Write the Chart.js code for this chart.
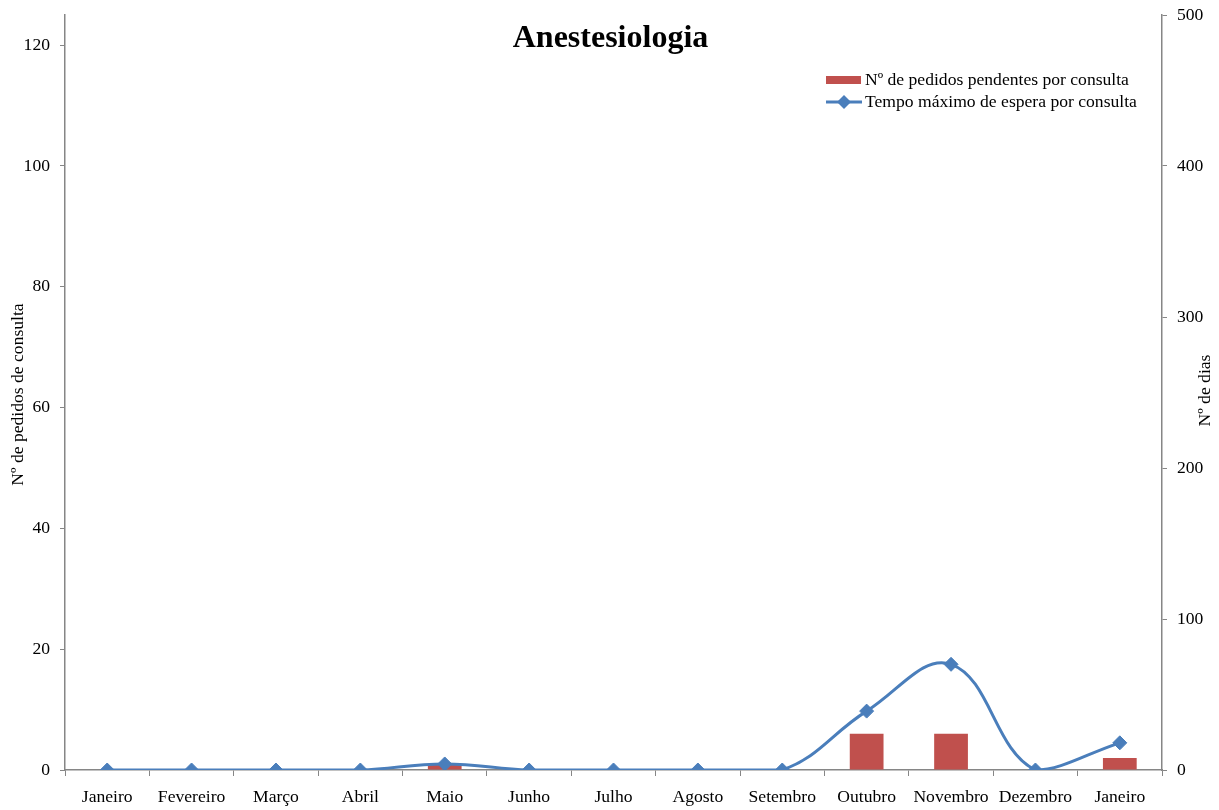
<!DOCTYPE html>
<html lang="pt">
<head>
<meta charset="utf-8">
<title>Anestesiologia</title>
<script src="https://cdn.jsdelivr.net/npm/chart.js@4/dist/chart.umd.min.js"></script>
<style>
  html, body { margin: 0; padding: 0; background: #fff; }
  #wrap { width: 1219px; height: 810px; }
</style>
</head>
<body>
<div id="wrap"><canvas id="anestesiologia-grafica" width="1219" height="810"></canvas></div>
<script>
const meses = ['Janeiro', 'Fevereiro', 'Março', 'Abril', 'Maio', 'Junho', 'Julho',
    'Agosto', 'Setembro', 'Outubro', 'Novembro', 'Dezembro', 'Janeiro'];
const pedidosPendentes = [0, 0, 0, 0, 1, 0, 0, 0, 0, 6, 6, 0, 2];
const tempoMaximo = [0, 0, 0, 0, 4, 0, 0, 0, 0, 39, 70, 0, 18];
const ticksPedidos = [0, 20, 40, 60, 80, 100, 120];
const ticksDias = [0, 100, 200, 300, 400, 500];

const serif = 'Liberation Serif, Times New Roman, serif';
const tamanho = 17.6;
const cinza = '#868686';
const azul = '#4a7ebb';
const vermelho = '#c0504d';

// titulo, legenda e titulos dos eixos desenhados por cima da area do grafico
const extras = {
    id: 'extras',
    afterDraw(chart) {
        const { ctx, chartArea } = chart;
        ctx.save();
        ctx.fillStyle = '#000';

        ctx.font = `bold 32px ${serif}`;
        ctx.textAlign = 'center';
        ctx.textBaseline = 'middle';
        ctx.fillText('Anestesiologia', (chartArea.left + chartArea.right) / 2 - 3, 39);

        // legenda
        const lx = chartArea.right - 336;
        ctx.fillStyle = vermelho;
        ctx.fillRect(lx, 76, 35, 8);
        ctx.strokeStyle = azul;
        ctx.lineWidth = 3;
        ctx.beginPath();
        ctx.moveTo(lx, 102);
        ctx.lineTo(lx + 36, 102);
        ctx.stroke();
        ctx.fillStyle = azul;
        ctx.beginPath();
        ctx.moveTo(lx + 18, 95);
        ctx.lineTo(lx + 25, 102);
        ctx.lineTo(lx + 18, 109);
        ctx.lineTo(lx + 11, 102);
        ctx.closePath();
        ctx.fill();

        ctx.fillStyle = '#000';
        ctx.font = `${tamanho}px ${serif}`;
        ctx.textAlign = 'left';
        ctx.fillText('Nº de pedidos pendentes por consulta', lx + 39, 80);
        ctx.fillText('Tempo máximo de espera por consulta', lx + 39, 102);

        // titulos dos eixos, ambos a ler de baixo para cima
        const meio = (chartArea.top + chartArea.bottom) / 2;
        ctx.textAlign = 'center';
        ctx.save();
        ctx.translate(18, meio + 2);
        ctx.rotate(-Math.PI / 2);
        ctx.fillText('Nº de pedidos de consulta', 0, 0);
        ctx.restore();
        ctx.save();
        ctx.translate(1205, meio - 2);
        ctx.rotate(-Math.PI / 2);
        ctx.fillText('Nº de dias', 0, 0);
        ctx.restore();

        ctx.restore();
    }
};

const fonteTicks = { family: serif, size: tamanho };

// eixos verticais com largura fixa e sem folga extra para o rotulo do topo
const ajustarEixoY = largura => scale => {
    scale.width = largura;
    scale.paddingTop = 0;
    scale.paddingBottom = 0;
};

const ctx = document.getElementById('anestesiologia-grafica').getContext('2d');
const grafica = new Chart(ctx, {
    type: 'bar',
    data: {
        labels: meses,
        datasets: [{
            type: 'line',
            label: 'Tempo máximo de espera por consulta',
            data: tempoMaximo,
            yAxisID: 'dias',
            borderColor: azul,
            backgroundColor: azul,
            borderWidth: 3,
            tension: 0.4,
            pointStyle: 'rectRot',
            pointRadius: 7,
            pointBorderWidth: 1,
            order: 0
        }, {
            label: 'Nº de pedidos pendentes por consulta',
            data: pedidosPendentes,
            yAxisID: 'pedidos',
            backgroundColor: vermelho,
            barPercentage: 0.8,
            categoryPercentage: 0.5,
            order: 1
        }]
    },
    options: {
        responsive: false,
        animation: false,
        layout: { padding: { top: 15 } },
        scales: {
            x: {
                offset: true,
                grid: { offset: true, drawOnChartArea: false, tickLength: 6, color: cinza },
                border: { color: cinza, width: 1.5 },
                ticks: { font: fonteTicks, color: '#000', padding: 11, maxRotation: 0, autoSkip: false },
                afterFit: scale => { scale.height = 40; }
            },
            pedidos: {
                position: 'left',
                min: 0,
                max: 125,
                afterBuildTicks: scale => { scale.ticks = ticksPedidos.map(v => ({ value: v })); },
                grid: { drawOnChartArea: false, tickLength: 5, color: cinza },
                border: { color: cinza, width: 1.5 },
                ticks: { font: fonteTicks, color: '#000', padding: 10 },
                afterFit: ajustarEixoY(65)
            },
            dias: {
                position: 'right',
                min: 0,
                max: 500,
                afterBuildTicks: scale => { scale.ticks = ticksDias.map(v => ({ value: v })); },
                grid: { drawOnChartArea: false, tickLength: 5, color: cinza },
                border: { color: cinza, width: 1.5 },
                ticks: { font: fonteTicks, color: '#000', padding: 10 },
                afterFit: ajustarEixoY(57)
            }
        },
        plugins: {
            legend: { display: false },
            tooltip: { enabled: false }
        }
    },
    plugins: [extras]
});
</script>
</body>
</html>
